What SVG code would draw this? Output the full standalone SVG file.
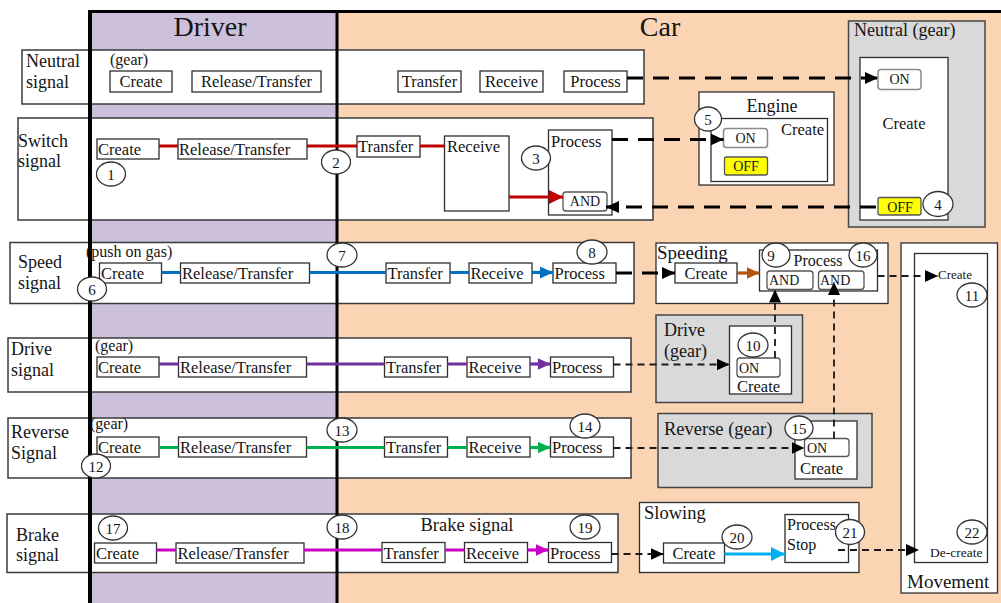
<svg xmlns="http://www.w3.org/2000/svg" width="1001" height="603" viewBox="0 0 1001 603">
  <defs>
    <style>
      text { font-family: "Liberation Serif", "Times New Roman", serif; fill: #151515; }
      .lab { font-size: 18px; }
      .t { font-size: 16.5px; }
      .tc { font-size: 16.5px; text-anchor: middle; }
      .sm { font-size: 16px; }
      .hd { font-size: 18.5px; }
      .tiny { font-size: 13.5px; }
      .onoff { font-size: 14px; text-anchor: middle; }
      .num { font-size: 15px; text-anchor: middle; }
      .frame { fill: #fff; stroke: #3a3a3a; stroke-width: 1.5; }
      .b { fill: #fff; stroke: #2e2e2e; stroke-width: 1.3; }
      .rb { fill: #fff; stroke: #555; stroke-width: 1.3; }
      .on { fill: #fff; stroke: #8a8a8a; stroke-width: 1.5; }
      .off { fill: #ffff00; stroke: #555; stroke-width: 1.3; }
      .gray { fill: #d9d9d9; stroke: #444; stroke-width: 1.5; }
      .badge { fill: #fff; stroke: #333; stroke-width: 1.3; }
      .col { fill: none; stroke: #000; }
      .c { fill: none; stroke-width: 3.2; }
      .dthick { fill: none; stroke: #000; stroke-width: 3.2; stroke-dasharray: 16 10; }
      .dthin { fill: none; stroke: #1a1a1a; stroke-width: 1.8; stroke-dasharray: 7 5; }
    </style>
    <marker id="ak" markerUnits="userSpaceOnUse" markerWidth="13" markerHeight="12" refX="13" refY="6" orient="auto">
      <path d="M0,0 L13,6 L0,12 z" fill="#000"/>
    </marker>
    <marker id="ar" markerUnits="userSpaceOnUse" markerWidth="14" markerHeight="14" refX="14" refY="7" orient="auto">
      <path d="M0,0 L14,7 L0,14 z" fill="#c00000"/>
    </marker>
    <marker id="ab" markerUnits="userSpaceOnUse" markerWidth="13" markerHeight="12" refX="13" refY="6" orient="auto">
      <path d="M0,0 L13,6 L0,12 z" fill="#0070c0"/>
    </marker>
    <marker id="ap" markerUnits="userSpaceOnUse" markerWidth="13" markerHeight="12" refX="13" refY="6" orient="auto">
      <path d="M0,0 L13,6 L0,12 z" fill="#7030a0"/>
    </marker>
    <marker id="ag" markerUnits="userSpaceOnUse" markerWidth="13" markerHeight="12" refX="13" refY="6" orient="auto">
      <path d="M0,0 L13,6 L0,12 z" fill="#00b050"/>
    </marker>
    <marker id="am" markerUnits="userSpaceOnUse" markerWidth="13" markerHeight="12" refX="13" refY="6" orient="auto">
      <path d="M0,0 L13,6 L0,12 z" fill="#c800c8"/>
    </marker>
    <marker id="abr" markerUnits="userSpaceOnUse" markerWidth="13" markerHeight="12" refX="13" refY="6" orient="auto">
      <path d="M0,0 L13,6 L0,12 z" fill="#b4530f"/>
    </marker>
    <marker id="alb" markerUnits="userSpaceOnUse" markerWidth="14" markerHeight="14" refX="14" refY="7" orient="auto">
      <path d="M0,0 L14,7 L0,14 z" fill="#00b0f0"/>
    </marker>
  </defs>

  <!-- swim lanes -->
  <rect x="0" y="0" width="1001" height="603" fill="#fff"/>
  <rect x="90" y="12" width="247" height="591" fill="#ccc0da"/>
  <rect x="337" y="12" width="664" height="591" fill="#fbd4b4"/>
  <text x="210" y="36" font-size="28" text-anchor="middle">Driver</text>
  <text x="660" y="36" font-size="28" text-anchor="middle">Car</text>

  <!-- signal rows -->
  <g id="row-neutral">
    <rect class="frame" x="22" y="50" width="622" height="54"/>
    <text class="lab" x="26" y="67">Neutral</text>
    <text class="lab" x="26" y="88">signal</text>
    <text class="sm" x="110" y="65">(gear)</text>
    <rect class="b" x="110" y="71" width="62" height="21"/>
    <text class="tc" x="141" y="87">Create</text>
    <rect class="b" x="192" y="71" width="129" height="21"/>
    <text class="tc" x="256.5" y="87">Release/Transfer</text>
    <rect class="b" x="398" y="71" width="63" height="21"/>
    <text class="tc" x="429.5" y="87">Transfer</text>
    <rect class="b" x="480" y="71" width="63" height="21"/>
    <text class="tc" x="511.5" y="87">Receive</text>
    <rect class="b" x="564" y="71" width="63" height="21"/>
    <text class="tc" x="595.5" y="87">Process</text>
  </g>

  <g id="row-switch">
    <rect class="frame" x="18" y="118" width="635" height="102"/>
    <text class="lab" x="18" y="147">Switch</text>
    <text class="lab" x="18" y="167">signal</text>
    <rect class="b" x="97" y="139" width="62" height="20"/>
    <text class="t" x="98" y="155">Create</text>
    <rect class="b" x="178" y="139" width="129" height="20"/>
    <text class="t" x="179" y="155">Release/Transfer</text>
    <rect class="b" x="357" y="136" width="63" height="21"/>
    <text class="t" x="358" y="152">Transfer</text>
    <rect class="b" x="444.5" y="136" width="64.5" height="75"/>
    <text class="t" x="447" y="152">Receive</text>
    <rect class="b" x="548.5" y="130" width="63.5" height="85"/>
    <text class="t" x="551" y="147">Process</text>
    <rect class="rb" x="563" y="192" width="44" height="19" rx="3"/>
    <text class="onoff" x="585" y="206">AND</text>
  </g>

  <g id="row-speed">
    <rect class="frame" x="10" y="242.5" width="624" height="61"/>
    <text class="lab" x="18" y="268">Speed</text>
    <text class="lab" x="18" y="289">signal</text>
    <text class="sm" x="86" y="257">(push on gas)</text>
    <rect class="b" x="99.5" y="263" width="62" height="20"/>
    <text class="t" x="101" y="279">Create</text>
    <rect class="b" x="180.5" y="263" width="129" height="20"/>
    <text class="t" x="182" y="279">Release/Transfer</text>
    <rect class="b" x="386" y="263" width="64" height="20"/>
    <text class="t" x="387.5" y="279">Transfer</text>
    <rect class="b" x="469" y="263" width="63" height="20"/>
    <text class="t" x="470.5" y="279">Receive</text>
    <rect class="b" x="553" y="263" width="63" height="20"/>
    <text class="t" x="554.5" y="279">Process</text>
  </g>

  <g id="row-drive">
    <rect class="frame" x="8" y="338" width="623" height="54"/>
    <text class="lab" x="11" y="355">Drive</text>
    <text class="lab" x="11" y="376">signal</text>
    <text class="sm" x="95" y="351">(gear)</text>
    <rect class="b" x="97" y="357" width="62" height="20"/>
    <text class="t" x="98" y="373">Create</text>
    <rect class="b" x="178.5" y="357" width="128" height="20"/>
    <text class="t" x="180" y="373">Release/Transfer</text>
    <rect class="b" x="384.5" y="357" width="63" height="20"/>
    <text class="t" x="386" y="373">Transfer</text>
    <rect class="b" x="467" y="357" width="63" height="20"/>
    <text class="t" x="468.5" y="373">Receive</text>
    <rect class="b" x="550.5" y="357" width="63" height="20"/>
    <text class="t" x="552" y="373">Process</text>
  </g>

  <g id="row-reverse">
    <rect class="frame" x="8" y="418" width="623" height="60"/>
    <text class="lab" x="11" y="438">Reverse</text>
    <text class="lab" x="11" y="459">Signal</text>
    <text class="sm" x="90" y="429">(gear)</text>
    <rect class="b" x="97" y="437" width="62" height="20"/>
    <text class="t" x="98" y="453">Create</text>
    <rect class="b" x="178.5" y="437" width="128" height="20"/>
    <text class="t" x="180" y="453">Release/Transfer</text>
    <rect class="b" x="384.5" y="437" width="63" height="20"/>
    <text class="t" x="386" y="453">Transfer</text>
    <rect class="b" x="467" y="437" width="63" height="20"/>
    <text class="t" x="468.5" y="453">Receive</text>
    <rect class="b" x="550.5" y="437" width="63" height="20"/>
    <text class="t" x="552" y="453">Process</text>
  </g>

  <g id="row-brake">
    <rect class="frame" x="7" y="514" width="611" height="58.5"/>
    <text class="lab" x="16" y="541">Brake</text>
    <text class="lab" x="16" y="561">signal</text>
    <text class="hd" x="467" y="531" text-anchor="middle">Brake signal</text>
    <rect class="b" x="94.5" y="543" width="62" height="20"/>
    <text class="t" x="96" y="559">Create</text>
    <rect class="b" x="176" y="543" width="128" height="20"/>
    <text class="t" x="177.5" y="559">Release/Transfer</text>
    <rect class="b" x="382" y="542.5" width="63" height="20"/>
    <text class="t" x="383.5" y="558.5">Transfer</text>
    <rect class="b" x="464.5" y="542.5" width="63" height="20"/>
    <text class="t" x="466" y="558.5">Receive</text>
    <rect class="b" x="548.5" y="542.5" width="63" height="20"/>
    <text class="t" x="550" y="558.5">Process</text>
  </g>

  <!-- lane borders -->
  <g id="lane-lines">
    <line class="col" x1="88" y1="11.5" x2="1001" y2="11.5" stroke-width="3"/>
    <line class="col" x1="90" y1="10" x2="90" y2="603" stroke-width="4"/>
    <line class="col" x1="337" y1="10" x2="337" y2="603" stroke-width="3"/>
  </g>

  <!-- state nodes on the car side -->
  <g id="neutral-gear">
    <rect class="gray" x="848.5" y="21" width="136.5" height="206"/>
    <text class="lab" x="854" y="36">Neutral (gear)</text>
    <rect class="b" x="860" y="57.5" width="88" height="162.5"/>
    <rect class="on" x="878" y="69.5" width="43" height="20" rx="3"/>
    <text class="onoff" x="899.5" y="84">ON</text>
    <text class="tc" x="904" y="129">Create</text>
    <rect class="off" x="878" y="197.5" width="43" height="17.5" rx="2"/>
    <text class="onoff" x="900" y="211.5">OFF</text>
  </g>

  <g id="engine">
    <rect class="b" x="699" y="92" width="135" height="93"/>
    <text class="lab" x="772" y="112" text-anchor="middle">Engine</text>
    <rect class="b" x="711" y="118.5" width="116.5" height="63"/>
    <text class="t" x="781" y="135">Create</text>
    <rect class="on" x="723.5" y="128.5" width="44" height="19" rx="3"/>
    <text class="onoff" x="745.5" y="143">ON</text>
    <rect class="off" x="724.5" y="157" width="43" height="18" rx="2"/>
    <text class="onoff" x="746" y="171">OFF</text>
  </g>

  <g id="speeding">
    <rect class="b" x="656" y="243" width="232" height="60.5"/>
    <text x="657" y="259" font-size="19">Speeding</text>
    <rect class="b" x="675" y="263" width="62" height="20"/>
    <text class="tc" x="706" y="279">Create</text>
    <rect class="b" x="759.5" y="250" width="118" height="41"/>
    <text x="818" y="266" font-size="16" text-anchor="middle">Process</text>
    <rect class="rb" x="767" y="271" width="46" height="18.5" rx="3"/>
    <text x="769" y="285" font-size="14">AND</text>
    <rect class="rb" x="818.5" y="271" width="45.5" height="18.5" rx="3"/>
    <text x="820" y="285" font-size="14">AND</text>
  </g>

  <g id="movement">
    <rect class="b" x="901" y="243" width="96.5" height="350"/>
    <rect class="b" x="914.5" y="253.5" width="73" height="309"/>
    <text x="938" y="279" font-size="13">Create</text>
    <text class="tiny" x="930" y="557">De-create</text>
    <text x="907" y="588" font-size="19">Movement</text>
  </g>

  <g id="drive-gear">
    <rect class="gray" x="656" y="315" width="146.5" height="87.5"/>
    <text class="lab" x="664" y="336">Drive</text>
    <text class="lab" x="664" y="357">(gear)</text>
    <rect class="b" x="729.5" y="326" width="62" height="68"/>
    <rect class="rb" x="737" y="358" width="43" height="19" rx="3"/>
    <text x="739" y="373" font-size="14">ON</text>
    <text class="t" x="737" y="392">Create</text>
  </g>

  <g id="reverse-gear">
    <rect class="gray" x="658" y="413.5" width="214" height="74"/>
    <text class="hd" x="664" y="435">Reverse (gear)</text>
    <rect class="b" x="795" y="421" width="62" height="58"/>
    <rect class="rb" x="804.5" y="438.5" width="44.5" height="18" rx="3"/>
    <text x="807" y="453" font-size="14">ON</text>
    <text class="t" x="800" y="474">Create</text>
  </g>

  <g id="slowing">
    <rect class="b" x="639.5" y="502.5" width="219.5" height="70"/>
    <text class="hd" x="644" y="519">Slowing</text>
    <rect class="b" x="663.5" y="543" width="61" height="20"/>
    <text class="tc" x="694" y="559">Create</text>
    <rect class="b" x="785" y="514.5" width="63.5" height="48"/>
    <text x="787" y="530" font-size="16">Process</text>
    <text x="787" y="550" font-size="16">Stop</text>
  </g>

  <!-- connectors -->
  <g id="connectors">
    <!-- switch (red) -->
    <path class="c" stroke="#c00000" d="M159,146 H178 M307,146 H357 M420,146 H444.5"/>
    <path class="c" stroke="#c00000" d="M509,197 H563" marker-end="url(#ar)"/>
    <!-- speed (blue) -->
    <path class="c" stroke="#0070c0" d="M161.5,272.5 H180.5 M309.5,272.5 H386 M450,272.5 H469"/>
    <path class="c" stroke="#0070c0" d="M532,272.5 H553" marker-end="url(#ab)"/>
    <!-- drive (purple) -->
    <path class="c" stroke="#7030a0" d="M159,364 H178.5 M306.5,364 H384.5 M447.5,364 H467"/>
    <path class="c" stroke="#7030a0" d="M530,364 H550.5" marker-end="url(#ap)"/>
    <!-- reverse (green) -->
    <path class="c" stroke="#00b050" d="M159,447.5 H178.5 M306.5,447.5 H384.5 M447.5,447.5 H467"/>
    <path class="c" stroke="#00b050" d="M530,447.5 H550.5" marker-end="url(#ag)"/>
    <!-- brake (magenta) -->
    <path class="c" stroke="#c800c8" d="M156.5,550 H176 M304,550 H382 M445,550 H464.5"/>
    <path class="c" stroke="#c800c8" d="M527.5,550 H548.5" marker-end="url(#am)"/>
    <!-- inside speeding / slowing -->
    <path class="c" stroke="#b4530f" d="M737,273 H759.5" marker-end="url(#abr)"/>
    <path class="c" stroke="#00b0f0" d="M724.5,554 H785" marker-end="url(#alb)"/>

    <!-- thick dashed control flows -->
    <path class="dthick" d="M627,78 H878" marker-end="url(#ak)"/>
    <path class="dthick" d="M612,139.5 H723.5" marker-end="url(#ak)"/>
    <path class="dthick" d="M876,207 H606" marker-end="url(#ak)"/>
    <path class="dthick" d="M616,273 H675" marker-end="url(#ak)"/>

    <!-- thin dashed control flows -->
    <path class="dthin" d="M613.5,364.5 H729.5" marker-end="url(#ak)"/>
    <path class="dthin" d="M613.5,448 H804.5" marker-end="url(#ak)"/>
    <path class="dthin" d="M611.5,554 H663.5" marker-end="url(#ak)"/>
    <path class="dthin" d="M877.5,276 H938" marker-end="url(#ak)"/>
    <path class="dthin" d="M838,550 H919" marker-end="url(#ak)"/>
    <path class="dthin" d="M775,358 V289.5" marker-end="url(#ak)"/>
    <path class="dthin" d="M834,438.5 V282" marker-end="url(#ak)"/>
  </g>

  <!-- numbered step badges -->
  <g id="badges">
    <ellipse class="badge" cx="111" cy="174" rx="14.5" ry="12"/><text class="num" x="111" y="179.5">1</text>
    <ellipse class="badge" cx="336" cy="162" rx="14.5" ry="12"/><text class="num" x="336" y="167.5">2</text>
    <ellipse class="badge" cx="536" cy="158" rx="14.5" ry="12"/><text class="num" x="536" y="163.5">3</text>
    <ellipse class="badge" cx="938" cy="204" rx="15" ry="12.5"/><text class="num" x="938" y="209.5">4</text>
    <ellipse class="badge" cx="708" cy="119" rx="13.5" ry="12"/><text class="num" x="708" y="124.5">5</text>
    <ellipse class="badge" cx="92" cy="289" rx="14.5" ry="12"/><text class="num" x="92" y="294.5">6</text>
    <ellipse class="badge" cx="342" cy="255" rx="15" ry="12"/><text class="num" x="342" y="260.5">7</text>
    <ellipse class="badge" cx="592" cy="252" rx="15" ry="12"/><text class="num" x="592" y="257.5">8</text>
    <ellipse class="badge" cx="776" cy="255" rx="14" ry="12"/><text class="num" x="771" y="260.5">9</text>
    <ellipse class="badge" cx="753" cy="345" rx="15" ry="12"/><text class="num" x="753" y="350.5">10</text>
    <ellipse class="badge" cx="972" cy="295" rx="15" ry="12"/><text class="num" x="972" y="301" font-size="18">11</text>
    <ellipse class="badge" cx="96" cy="466" rx="14.5" ry="12"/><text class="num" x="96" y="471.5">12</text>
    <ellipse class="badge" cx="342" cy="430" rx="15" ry="12"/><text class="num" x="342" y="435.5">13</text>
    <ellipse class="badge" cx="585" cy="426" rx="15" ry="12"/><text class="num" x="585" y="431.5">14</text>
    <ellipse class="badge" cx="799" cy="428" rx="14" ry="12"/><text class="num" x="799" y="433.5">15</text>
    <ellipse class="badge" cx="863" cy="255" rx="14" ry="12"/><text class="num" x="863" y="261" font-size="17">16</text>
    <ellipse class="badge" cx="113" cy="528" rx="14.5" ry="12"/><text class="num" x="113" y="533.5">17</text>
    <ellipse class="badge" cx="342" cy="527" rx="15" ry="12"/><text class="num" x="342" y="532.5">18</text>
    <ellipse class="badge" cx="585" cy="527" rx="15" ry="12"/><text class="num" x="585" y="532.5">19</text>
    <ellipse class="badge" cx="737" cy="537" rx="15" ry="12"/><text class="num" x="737" y="542.5">20</text>
    <ellipse class="badge" cx="850" cy="532" rx="14.5" ry="12.5"/><text class="num" x="850" y="538">21</text>
    <ellipse class="badge" cx="972" cy="532" rx="15" ry="12"/><text class="num" x="972" y="538" font-size="16">22</text>
  </g>
</svg>
